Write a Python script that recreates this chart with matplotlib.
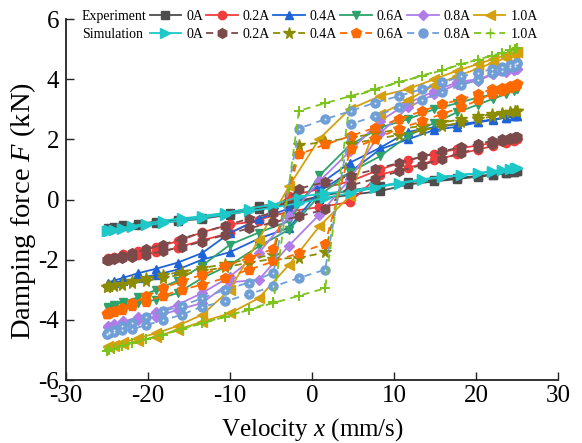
import matplotlib
matplotlib.use("Agg")
import matplotlib.pyplot as plt
from matplotlib.lines import Line2D

plt.rcParams['font.family'] = 'Liberation Serif'
plt.rcParams['mathtext.fontset'] = 'custom'
plt.rcParams['mathtext.rm'] = 'Liberation Serif'
plt.rcParams['mathtext.it'] = 'Liberation Serif:italic'
plt.rcParams['axes.unicode_minus'] = False

currents = ['0A', '0.2A', '0.4A', '0.6A', '0.8A', '1.0A']

# measured loops: velocity going down (upper branch), then back up (lower branch)
v_exp_dn = [25.0, 24.6, 23.6, 22.1, 20.2, 17.7, 14.9, 11.7, 8.3, 4.6, 0.9,
            -2.8, -6.5, -10.0, -13.4, -16.4, -19.0, -21.2, -23.0, -24.2, -24.9]
v_exp_up = [-24.9, -24.2, -23.0, -21.2, -19.0, -16.4, -13.4, -10.0, -6.5, -2.8,
            0.9, 4.6, 8.3, 11.7, 14.9, 17.7, 20.2, 22.1, 23.6, 24.6, 25.0]

e0_dn = [0.95, 0.92, 0.88, 0.83, 0.78, 0.72, 0.66, 0.58, 0.45, 0.30, 0.10,
         -0.11, -0.22, -0.44, -0.60, -0.68, -0.74, -0.80, -0.86, -0.91, -0.95]
e0_up = [-0.98, -0.94, -0.89, -0.84, -0.78, -0.72, -0.64, -0.50, -0.30, -0.15,
         0.02, 0.15, 0.28, 0.50, 0.60, 0.68, 0.76, 0.82, 0.87, 0.91, 0.95]
e2_dn = [2.00, 1.98, 1.95, 1.88, 1.80, 1.68, 1.52, 1.30, 1.00, 0.60, 0.35,
         0.11, -0.72, -0.83, -1.09, -1.39, -1.58, -1.72, -1.82, -1.90, -1.96]
e2_up = [-1.98, -1.95, -1.90, -1.83, -1.76, -1.60, -1.36, -1.11, -0.67, -0.40,
         -0.25, -0.09, 0.83, 1.05, 1.30, 1.50, 1.66, 1.78, 1.88, 1.95, 2.00]
e4_dn = [2.78, 2.76, 2.72, 2.67, 2.58, 2.50, 2.40, 2.25, 1.72, 1.22, 0.50,
         -0.30, -0.65, -1.11, -1.78, -2.10, -2.30, -2.45, -2.60, -2.70, -2.76]
e4_up = [-2.80, -2.76, -2.70, -2.62, -2.50, -2.33, -2.00, -1.75, -1.30, -0.94,
         0.28, 0.90, 1.67, 2.00, 2.31, 2.42, 2.56, 2.65, 2.72, 2.76, 2.78]
e6_dn = [3.68, 3.66, 3.60, 3.50, 3.39, 3.20, 3.00, 2.67, 2.39, 1.80, 0.80,
         -0.72, -1.10, -1.50, -2.20, -2.70, -3.00, -3.25, -3.40, -3.52, -3.58]
e6_up = [-3.60, -3.58, -3.52, -3.45, -3.33, -3.11, -2.61, -2.17, -1.56, -1.00,
         0.13, 0.90, 1.44, 2.11, 2.55, 2.90, 3.15, 3.35, 3.50, 3.62, 3.68]
e8_dn = [4.33, 4.31, 4.25, 4.17, 4.00, 3.90, 3.60, 3.20, 2.61, 1.60, 0.61,
         -0.56, -1.78, -2.56, -3.11, -3.50, -3.75, -3.92, -4.05, -4.15, -4.22]
e8_up = [-4.25, -4.22, -4.17, -4.02, -3.89, -3.67, -3.44, -2.75, -2.67, -1.53,
         -0.50, 0.67, 2.20, 3.06, 3.50, 3.83, 3.94, 4.17, 4.28, 4.31, 4.33]
e10_dn = [4.89, 4.85, 4.80, 4.67, 4.50, 4.28, 4.00, 3.67, 3.44, 3.00, 2.02,
          0.44, -1.33, -3.00, -3.83, -4.20, -4.45, -4.60, -4.75, -4.83, -4.87]
e10_up = [-4.90, -4.87, -4.80, -4.72, -4.56, -4.33, -4.06, -3.78, -3.28, -2.17,
          -0.89, 0.11, 2.83, 3.30, 3.80, 4.10, 4.35, 4.55, 4.70, 4.82, 4.89]

# model loops
v_sim_dn = [25.0, 24.8, 24.2, 23.2, 21.9, 20.2, 18.2, 15.9, 13.4, 10.6, 7.7, 4.7, 1.6,
            -1.6, -4.7, -7.7, -10.6, -13.4, -15.9, -18.2, -20.2, -21.9, -23.2, -24.2, -24.8, -25.0]
v_sim_up = [-25.0, -24.8, -24.2, -23.2, -21.9, -20.2, -18.2, -15.9, -13.4, -10.6, -7.7, -4.7, -1.6,
            1.6, 4.7, 7.7, 10.6, 13.4, 15.9, 18.2, 20.2, 21.9, 23.2, 24.2, 24.8, 25.0]

s0_dn = [1.06, 1.05, 1.03, 0.98, 0.92, 0.87, 0.82, 0.76, 0.67, 0.56, 0.42, 0.30, 0.20,
         0.10, -0.17, -0.30, -0.44, -0.55, -0.63, -0.70, -0.80, -0.88, -0.95, -1.00, -1.03, -1.05]
s0_up = [-1.06, -1.05, -1.02, -0.98, -0.92, -0.86, -0.78, -0.70, -0.61, -0.50, -0.39, -0.27, -0.12,
         0.05, 0.22, 0.39, 0.53, 0.65, 0.74, 0.81, 0.87, 0.94, 0.99, 1.03, 1.05, 1.06]
s2_dn = [2.09, 2.07, 2.04, 2.00, 1.94, 1.85, 1.74, 1.60, 1.43, 1.22, 1.00, 0.79, 0.58,
         0.36, -0.44, -0.64, -0.87, -1.10, -1.30, -1.50, -1.65, -1.78, -1.88, -1.95, -1.99, -2.00]
s2_up = [-2.02, -2.01, -1.99, -1.95, -1.90, -1.83, -1.72, -1.58, -1.40, -1.17, -0.96, -0.76, -0.56,
         -0.33, 0.47, 0.69, 0.94, 1.15, 1.35, 1.55, 1.70, 1.83, 1.93, 2.00, 2.05, 2.09]
s4_dn = [2.95, 2.94, 2.92, 2.88, 2.83, 2.76, 2.67, 2.56, 2.45, 2.33, 2.20, 2.05, 1.92,
         1.80, -1.83, -1.98, -2.15, -2.28, -2.40, -2.52, -2.62, -2.72, -2.80, -2.85, -2.88, -2.90]
s4_up = [-2.90, -2.89, -2.87, -2.83, -2.78, -2.70, -2.60, -2.50, -2.38, -2.25, -2.10, -1.97, -1.94,
         -1.76, 1.85, 2.00, 2.15, 2.30, 2.44, 2.56, 2.66, 2.76, 2.84, 2.90, 2.93, 2.95]
s6_dn = [3.83, 3.81, 3.78, 3.72, 3.67, 3.50, 3.33, 3.17, 2.94, 2.67, 2.39, 2.11, 1.83,
         1.50, -1.64, -1.94, -2.22, -2.50, -2.72, -2.94, -3.22, -3.44, -3.60, -3.70, -3.75, -3.80]
s6_up = [-3.80, -3.78, -3.74, -3.68, -3.55, -3.40, -3.20, -3.00, -2.83, -2.61, -2.33, -2.06, -1.78,
         -1.47, 1.67, 2.00, 2.36, 2.60, 2.85, 3.06, 3.30, 3.50, 3.62, 3.72, 3.78, 3.83]
s8_dn = [4.53, 4.52, 4.47, 4.39, 4.33, 4.22, 4.09, 3.89, 3.67, 3.44, 3.22, 2.94, 2.67,
         2.36, -2.44, -2.76, -3.00, -3.28, -3.53, -3.72, -3.89, -4.10, -4.20, -4.33, -4.42, -4.47]
s8_up = [-4.47, -4.45, -4.42, -4.35, -4.31, -4.17, -4.02, -3.83, -3.56, -3.39, -3.14, -2.89, -2.61,
         -2.33, 2.50, 2.78, 3.06, 3.30, 3.56, 3.80, 3.98, 4.19, 4.28, 4.39, 4.45, 4.53]
s10_dn = [5.02, 5.00, 4.96, 4.88, 4.78, 4.65, 4.49, 4.31, 4.12, 3.90, 3.67, 3.44, 3.20,
          2.95, -3.40, -3.65, -3.90, -4.10, -4.30, -4.50, -4.65, -4.78, -4.88, -4.96, -5.00, -5.02]
s10_up = [-5.02, -5.00, -4.96, -4.88, -4.78, -4.65, -4.49, -4.31, -4.12, -3.90, -3.67, -3.44, -3.20,
          -2.95, 3.40, 3.65, 3.90, 4.10, 4.30, 4.50, 4.65, 4.78, 4.88, 4.96, 5.00, 5.02]

exp_loops = [(e0_dn, e0_up), (e2_dn, e2_up), (e4_dn, e4_up),
             (e6_dn, e6_up), (e8_dn, e8_up), (e10_dn, e10_up)]
sim_loops = [(s0_dn, s0_up), (s2_dn, s2_up), (s4_dn, s4_up),
             (s6_dn, s6_up), (s8_dn, s8_up), (s10_dn, s10_up)]

exp_colors = ['#4d4d4d', '#f03c3c', '#1f63d8', '#2ca36b', '#b07de8', '#d4a00e']
exp_markers = ['s', 'o', '^', 'v', 'D', '<']
exp_ms = [5.5, 6, 6, 6, 5, 6.5]
sim_colors = ['#1ec8c8', '#7b4a4a', '#8c8c00', '#ff6a00', '#6f9fd6', '#7cc41c']
sim_markers = ['>', 'h', '*', 'p', 'o', '+']
sim_ms = [7, 7, 8.5, 7, 6.5, 7]
sim_ls = ['-', (0, (4, 3)), (0, (4, 3)), (0, (4, 3)), (0, (4, 3)), (0, (4, 3))]

fig = plt.figure(figsize=(5.82, 4.43), dpi=100)
ax = fig.add_axes([0.1134, 0.1422, 0.8454, 0.8149])

for k in range(6):
    dn, up = exp_loops[k]
    ax.plot(v_exp_dn + v_exp_up, dn + up, color=exp_colors[k], marker=exp_markers[k],
            ms=exp_ms[k], lw=1.3, mec=exp_colors[k])

for k in range(6):
    dn, up = sim_loops[k]
    ax.plot(v_sim_dn + v_sim_up, dn + up, color=sim_colors[k], marker=sim_markers[k],
            ms=sim_ms[k], lw=1.3, ls=sim_ls[k], mew=1.4 if k == 5 else 1.0)
    if k == 4:
        # small shine spot on the ball markers
        ax.plot(v_sim_dn + v_sim_up, dn + up, ls='none', marker='o', ms=1.4,
                color='#e3edf8', mec='none')

ax.set_xlim(-30, 30)
ax.set_ylim(-6, 6)
ax.set_xticks([-30, -20, -10, 0, 10, 20, 30])
ax.set_yticks([-6, -4, -2, 0, 2, 4, 6])
ax.tick_params(direction='in', length=5.5, width=1.0, labelsize=18, color='#222222')
ax.tick_params(axis='x', pad=3.5)
ax.tick_params(axis='y', pad=5)
for s in ['top', 'right']:
    ax.spines[s].set_visible(False)
for s in ['left', 'bottom']:
    ax.spines[s].set_linewidth(1.3)
    ax.spines[s].set_color('#222222')

ax.set_xlabel('Velocity $x$ (mm/s)', fontsize=18)
ax.set_ylabel('Damping force $F$ (kN)', fontsize=20.5)
ax.xaxis.set_label_coords(0.5, -0.1)
ax.yaxis.set_label_coords(-0.057, 0.467)

# first legend column only carries the row titles
blank = Line2D([], [], ls='none')
handles = [blank, blank]
labels = ['Experiment', 'Simulation']
for k in range(6):
    handles.append(Line2D([], [], color=exp_colors[k], marker=exp_markers[k],
                          ms=exp_ms[k], lw=1.3))
    handles.append(Line2D([], [], color=sim_colors[k], marker=sim_markers[k],
                          ms=sim_ms[k], lw=1.3, ls=sim_ls[k]))
    labels += [currents[k], currents[k]]

fig.legend(handles, labels, ncol=7, loc='upper left', bbox_to_anchor=(0.078, 0.978),
           frameon=False, fontsize=10, handlelength=2.25, handletextpad=0.36,
           columnspacing=0.25, labelspacing=0.35, borderpad=0, borderaxespad=0)

fig.savefig('out.png', dpi=100)
